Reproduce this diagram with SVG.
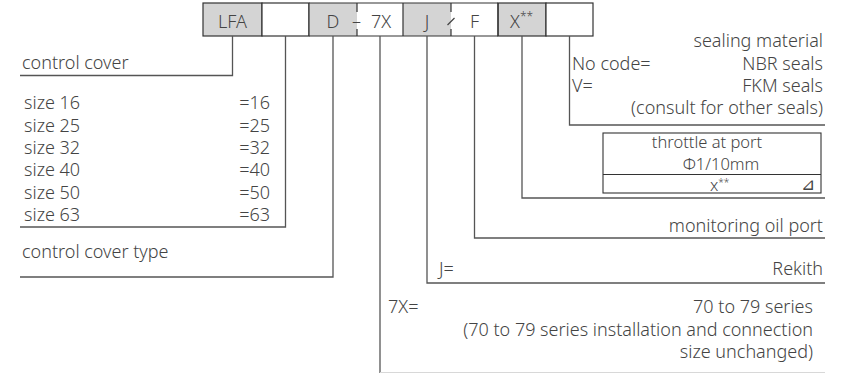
<svg xmlns="http://www.w3.org/2000/svg" width="845" height="373" viewBox="0 0 845 373">
<style>
text{font-family:"Noto Sans","Liberation Sans",sans-serif;font-size:18px;fill:#444;font-weight:300}
.e{text-anchor:end}
.m{text-anchor:middle}
.box{stroke:#333;stroke-width:1.2}
.g{fill:#d4d4d4}
.w{fill:#fff}
.ln{fill:none;stroke:#555;stroke-width:1.3}
.sm{font-size:16.5px}
</style>
<rect width="845" height="373" fill="#fff"/>
<g id="code">
<rect class="box g" x="203" y="3" width="59" height="33"/>
<rect class="box w" x="262" y="3" width="47" height="33"/>
<rect class="g" x="309" y="3" width="48" height="33"/>
<rect class="w" x="357" y="3" width="46" height="33"/>
<rect class="g" x="403" y="3" width="48" height="33"/>
<rect class="w" x="451" y="3" width="47" height="33"/>
<rect class="box g" x="498" y="3" width="48" height="33"/>
<rect class="box w" x="546" y="3" width="47" height="33"/>
<path class="box" fill="none" d="M309 3H498M309 36H498M309 3V36M403 3V36M498 3V36M357 3V12M357 29V36M451 3V12M451 29V36"/>
<text class="m" x="232.5" y="28">LFA</text>
<text class="m" x="333" y="28">D</text>
<text class="m" x="356.5" y="27">–</text>
<text class="m" x="381" y="28">7X</text>
<text class="m" x="427" y="28">J</text>
<line x1="447.5" y1="25" x2="454.5" y2="18" stroke="#444" stroke-width="1.2"/>
<text class="m" x="474.5" y="28">F</text>
<text x="510" y="28">X<tspan font-size="12" dy="-7">**</tspan></text>
</g>
<g id="connectors">
<path class="ln" d="M232.5 36V75.5H20"/>
<path class="ln" d="M285.5 36V227H20"/>
<path class="ln" d="M333 36V277H20"/>
<path class="ln" d="M380 36V373"/>
<line x1="380" y1="372.5" x2="825" y2="372.5" stroke="#d8d8d8" stroke-width="1"/>
<path class="ln" d="M427 36V283H825"/>
<path class="ln" d="M474.5 36V238H825"/>
<path class="ln" d="M522 36V198H825"/>
<path class="ln" d="M569.5 36V125H825"/>
</g>
<g id="control-cover">
<text x="22" y="69">control cover</text>
</g>
<g id="sizes">
<text x="24" y="109">size 16</text><text class="e" x="270" y="109">=16</text>
<text x="24" y="131.5">size 25</text><text class="e" x="270" y="131.5">=25</text>
<text x="24" y="154">size 32</text><text class="e" x="270" y="154">=32</text>
<text x="24" y="176">size 40</text><text class="e" x="270" y="176">=40</text>
<text x="24" y="198.5">size 50</text><text class="e" x="270" y="198.5">=50</text>
<text x="24" y="221">size 63</text><text class="e" x="270" y="221">=63</text>
</g>
<g id="cover-type">
<text x="22" y="258">control cover type</text>
</g>
<g id="sealing">
<text class="e" x="823" y="47">sealing material</text>
<text x="572" y="70">No code=</text><text class="e" x="823" y="70">NBR seals</text>
<text x="572" y="92">V=</text><text class="e" x="823" y="92">FKM seals</text>
<text class="e" x="823" y="114">(consult for other seals)</text>
</g>
<g id="throttle">
<rect x="603" y="133" width="218" height="60" fill="none" stroke="#333" stroke-width="1.1"/>
<line x1="603" y1="174.5" x2="821" y2="174.5" stroke="#333" stroke-width="1.1"/>
<text class="m sm" x="707" y="148">throttle at port</text>
<text class="m sm" x="721" y="170">Φ1/10mm</text>
<text class="sm" x="710" y="191">x<tspan font-size="10" dy="-5">**</tspan></text>
<text x="801" y="190" style="font-family:'DejaVu Sans',sans-serif;font-size:17px">⊿</text>
</g>
<g id="monitoring">
<text class="e" x="823" y="232">monitoring oil port</text>
</g>
<g id="rekith">
<text x="439" y="275">J=</text><text class="e" x="823" y="275">Rekith</text>
</g>
<g id="series">
<text x="388" y="313">7X=</text>
<text class="e" x="813" y="313">70 to 79 series</text>
<text class="e" x="813" y="336">(70 to 79 series installation and connection</text>
<text class="e" x="813" y="358">size unchanged)</text>
</g>
</svg>
